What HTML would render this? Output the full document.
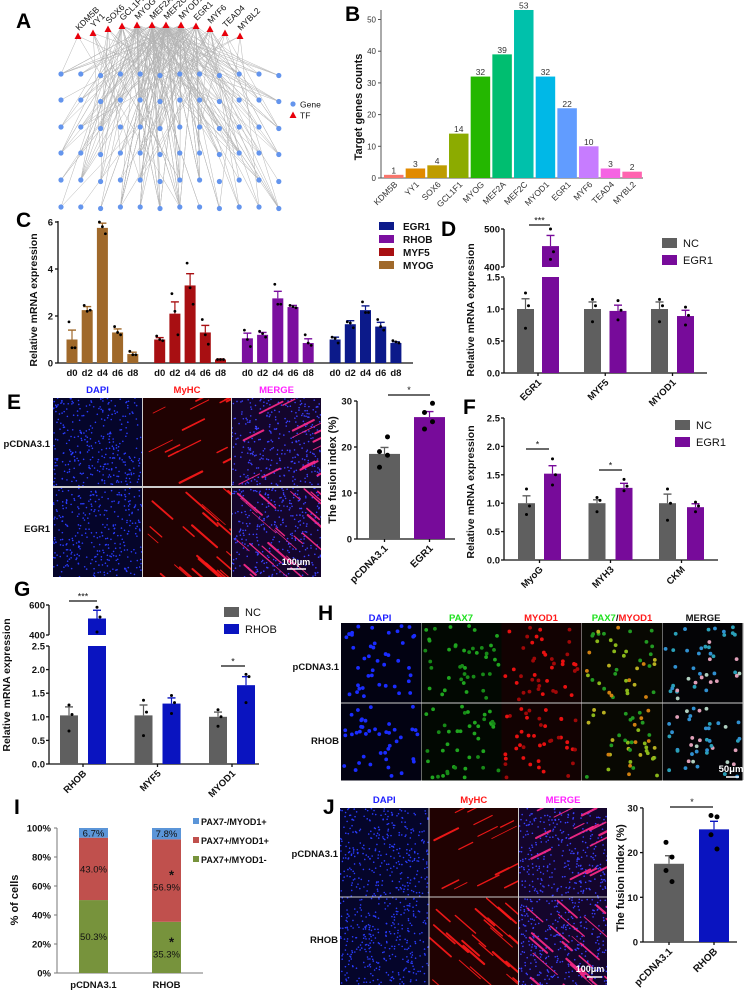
<!DOCTYPE html>
<html><head><meta charset="utf-8">
<style>
html,body{margin:0;padding:0;background:#fff;}
svg{display:block;font-family:"Liberation Sans",Arial,sans-serif;}
text{font-family:"Liberation Sans",Arial,sans-serif;}
</style></head>
<body>
<svg id="fig" width="744" height="991" viewBox="0 0 744 991" xmlns="http://www.w3.org/2000/svg">
<rect x="0" y="0" width="744" height="991" fill="#fff"/>
</svg>
<script>
// ---------- DATA ----------
const bCats=['KDM5B','YY1','SOX6','GCL1F1','MYOG','MEF2A','MEF2C','MYOD1','EGR1','MYF6','TEAD4','MYBL2'];
const bVals=[1,3,4,14,32,39,53,32,22,10,3,2];
const bTicks=[0,10,20,30,40,50];
const bColors=['#f8766d','#e18a00','#be9c00','#8cab00','#24b700','#00be70','#00c1ab','#00b8e7','#619cff','#c77cff','#f564e3','#ff64b0'];

const cSeries=['MYOG','MYF5','RHOB','EGR1'];
const cDays=['d0','d2','d4','d6','d8'];
const cMYOG=[1.0,2.25,5.75,1.3,0.38];
const cMYOGerr=[0.4,0.15,0.2,0.15,0.08];
const cMYF5=[1.0,2.1,3.3,1.3,0.15];
const cMYF5err=[0.08,0.5,0.5,0.3,0.02];
const cRHOB=[1.05,1.2,2.75,2.38,0.85];
const cRHOBerr=[0.22,0.1,0.3,0.07,0.18];
const cEGR1=[1.0,1.65,2.25,1.55,0.85];
const cEGR1err=[0.1,0.15,0.18,0.18,0.05];
const cMYOGdots=[[1.75,0.65,0.65],[2.45,2.2,2.25],[6.0,5.8,5.5],[1.55,1.3,1.2],[0.5,0.35,0.35]];
const cMYF5dots=[[1.15,1.0,0.95],[2.95,2.2,1.2],[4.25,3.2,2.5],[1.85,1.2,0.8],[0.15,0.15,0.15]];
const cRHOBdots=[[1.4,1.0,0.7],[1.35,1.25,1.1],[3.35,2.5,2.5],[2.45,2.4,2.35],[1.2,0.85,0.75]];
const cEGR1dots=[[1.1,1.05,0.85],[1.75,1.7,1.5],[2.6,2.15,2.15],[1.85,1.55,1.4],[0.95,0.9,0.85]];
const cTicks=[0,2,4,6];

const dCats=['EGR1','MYF5','MYOD1'];
const dNC=[1.0,1.0,1.0];
const dNCerr=[0.16,0.11,0.11];
const dEGR=[455,0.97,0.89];
const dEGRerr=[28,0.09,0.09];
const dNCdots=[[1.25,1.05,0.7],[1.15,1.05,0.8],[1.15,1.05,0.8]];
const dEGRdots=[[500,440,420],[1.13,0.98,0.83],[1.03,0.9,0.75]];
const dTicksLow=[0,0.5,1.0,1.5];
const dTicksHigh=[400,500];

const fCats=['MyoG','MYH3','CKM'];
const fNC=[1.0,1.0,1.0];
const fNCerr=[0.13,0.06,0.16];
const fEGR=[1.52,1.27,0.93];
const fEGRerr=[0.14,0.08,0.06];
const fNCdots=[[1.25,0.95,0.8],[1.1,1.05,0.85],[1.25,1.0,0.7]];
const fEGRdots=[[1.78,1.5,1.32],[1.42,1.3,1.22],[1.02,0.95,0.85]];
const fTicks=[0,0.5,1.0,1.5,2.0,2.5];

const eCats=['pCDNA3.1','EGR1'];
const eVals=[18.5,26.5];
const eErr=[1.4,1.2];
const eDots=[[22.2,19,18.2,15.6],[29.5,27.5,25.5,23.9]];
const fusTicks=[0,10,20,30];

const gCats=['RHOB','MYF5','MYOD1'];
const gNC=[1.03,1.03,1.0];
const gNCerr=[0.18,0.22,0.1];
const gRHOB=[510,1.28,1.67];
const gRHOBerr=[55,0.12,0.18];
const gNCdots=[[1.25,1.05,0.7],[1.35,1.1,0.6],[1.15,1.0,0.8]];
const gRHOBdots=[[585,520,420],[1.45,1.3,1.07],[1.9,1.85,1.3]];
const gTicksLow=[0,0.5,1.0,1.5,2.0,2.5];
const gTicksHigh=[400,600];

const iCats=['pCDNA3.1','RHOB'];
const iGreen=[50.3,35.3];
const iRed=[43.0,56.9];
const iBlue=[6.7,7.8];
const iTicks=[0,20,40,60,80,100];

const jCats=['pCDNA3.1','RHOB'];
const jVals=[17.5,25.2];
const jErr=[1.8,1.8];
const jDots=[[22.3,19,16,13.5],[28.3,28,24,20.8]];

// ---------- HELPERS ----------
const svg=document.getElementById('fig');
const NS='http://www.w3.org/2000/svg';
function el(tag,attrs,parent){const e=document.createElementNS(NS,tag);for(const k in attrs)e.setAttribute(k,attrs[k]);(parent||svg).appendChild(e);return e;}
function grp(name){const g=el('g',{});


return g;}
function txt(p,x,y,s,size,name,extra){const e=el('text',Object.assign({x:x,y:y,'font-size':size,'font-weight':'bold',fill:'#111'},extra||{}),p);e.textContent=s;


return e;}
function line(p,x1,y1,x2,y2,name,stroke,w){const e=el('line',{x1:x1,y1:y1,x2:x2,y2:y2,stroke:stroke||'#111','stroke-width':w||1.3},p);


return e;}
function rect(p,x,y,w,h,fill,name,extra){const e=el('rect',Object.assign({x:x,y:y,width:w,height:h,fill:fill},extra||{}),p);


return e;}
function dot(p,x,y,r,fill,name){const e=el('circle',{cx:x,cy:y,r:r,fill:fill},p);


return e;}
function letter(s,x,y){const g=grp('panel-label-'+s);txt(g,x,y,s,21,'panel-letter-'+s,{'font-weight':'bold',fill:'#000'});}
function ytitle(p,x,y,s,size,name){txt(p,x,y,s,size||10.5,name,{transform:'rotate(-90 '+x+' '+y+')','text-anchor':'middle'});}
function errbar(p,cx,yTop,yErr,col,name){line(p,cx,yTop,cx,yErr,name+'-v',col,1.2);line(p,cx-4,yErr,cx+4,yErr,name+'-cap',col,1.4);}
let seed=7;function rnd(){seed=(seed*16807)%2147483647;return (seed-1)/2147483646;}

// ---------- A: NETWORK ----------
(function(){
const g=grp('panel-a-network');letter('A',16,28);
const tfX=[78,93,108,122,137,152,166,181,196,210,225,240];
const tfY=[36,33,29,26,25,25,25,25,26,29,33,36];
const genes=[];const gy=[74,100,127,153,180,207];
for(let r=0;r<6;r++)for(let c=0;c<12;c++)genes.push([61+c*19.8,gy[r]+(c%3==2?1.5:0)]);
const eg=grp('network-edges');g.appendChild(eg);
bVals.forEach((n,i)=>{const cnt=Math.round(n*1.2)+2;for(let k=0;k<cnt;k++){const t=genes[Math.floor(rnd()*genes.length)];line(eg,tfX[i],tfY[i],t[0],t[1],'edge-'+bCats[i],'#b4b4b4',0.5);}});
genes.forEach((p,i)=>dot(g,p[0],p[1],2.6,'#6495ed','gene-node'));
tfX.forEach((x,i)=>{const y=tfY[i];const t=el('polygon',{points:(x-3.5)+','+(y+3)+' '+(x+3.5)+','+(y+3)+' '+x+','+(y-3.5),fill:'#e8000b'},g);


txt(g,x+1,y-5,bCats[i],8.5,'tf-label-'+bCats[i],{'font-weight':'normal',transform:'rotate(-45 '+(x+1)+' '+(y-5)+')'});});
dot(g,293,104,2.6,'#6495ed','legend-gene-marker');txt(g,300,107.5,'Gene',8.5,'legend-gene-label',{'font-weight':'normal'});
const lt=el('polygon',{points:'289.5,118 296.5,118 293,111.5',fill:'#e8000b'},g);


txt(g,300,118.5,'TF',8.5,'legend-tf-label',{'font-weight':'normal'});
})();

// ---------- B ----------
(function(){
const g=grp('panel-b-bar-chart');letter('B',345,21);
const y=v=>178-v*3.17, x=i=>384+i*21.67;
line(g,381,178,643,178,'x-axis','#555',1);line(g,381,10,381,178,'y-axis','#555',1);
bTicks.forEach(t=>{line(g,378,y(t),381,y(t),'y-tick','#555',1);txt(g,376,y(t)+3,String(t),8,'y-tick-label',{'font-weight':'normal','text-anchor':'end',fill:'#333'});});
bVals.forEach((v,i)=>{rect(g,x(i),y(v),19.5,178-y(v),bColors[i],'bar-'+bCats[i]);
txt(g,x(i)+9.75,y(v)-1.5,String(v),8.5,'value-label-'+bCats[i],{'font-weight':'normal','text-anchor':'middle',fill:'#333'});
const lx=x(i)+14,ly=185;txt(g,lx,ly,bCats[i],8.5,'x-label-'+bCats[i],{'font-weight':'normal','text-anchor':'end',fill:'#333',transform:'rotate(-45 '+lx+' '+ly+')'});});
ytitle(g,362,107,'Target genes counts',11,'y-axis-title');
})();

// ---------- C ----------
(function(){
const g=grp('panel-c-grouped-bars');letter('C',16,227);
const y=v=>363-v*23.5;
const cols=['#a0692a','#a80f12','#7b0f9f','#0c1a8a'];
const vals=[cMYOG,cMYF5,cRHOB,cEGR1],errs=[cMYOGerr,cMYF5err,cRHOBerr,cEGR1err],dots=[cMYOGdots,cMYF5dots,cRHOBdots,cEGR1dots];
line(g,58,363,413,363,'x-axis');line(g,58,221,58,363,'y-axis');
cTicks.forEach(t=>{line(g,55,y(t),58,y(t),'y-tick');txt(g,53,y(t)+3.5,String(t),9.5,'y-tick-label',{'text-anchor':'end'});});
vals.forEach((s,si)=>s.forEach((v,di)=>{const cx=72+si*87.7+di*15.2;const nm='bar-'+cSeries[si]+'-'+cDays[di];
rect(g,cx-5.5,y(v),11,363-y(v),cols[si],nm);errbar(g,cx,y(v),y(v+errs[si][di]),cols[si],nm+'-error');
dots[si][di].forEach((d,k)=>dot(g,cx+(k-1)*3,y(d),1.4,'#000',nm+'-point'));
txt(g,cx,376,cDays[di],9.5,'x-label-'+cDays[di],{'text-anchor':'middle'});}));
ytitle(g,37,300,'Relative mRNA expression',10.5,'y-axis-title');
const lg=['EGR1','RHOB','MYF5','MYOG'],lc=['#0c1a8a','#7b0f9f','#a80f12','#a0692a'];
lg.forEach((s,i)=>{rect(g,379,222+i*13,15,8,lc[i],'legend-swatch-'+s);txt(g,403,230+i*13,s,10,'legend-label-'+s);});
})();

// ---------- break-axis pair chart helper ----------
function pairChart(cfg){
const g=grp(cfg.name);
const yf=cfg.y;
cfg.axisSegs.forEach(s=>line(g,cfg.ax,s[0],cfg.ax,s[1],'y-axis'));
line(g,cfg.ax,cfg.base,cfg.axEnd,cfg.base,'x-axis');
cfg.ticks.forEach(t=>{line(g,cfg.ax-3,yf(t),cfg.ax,yf(t),'y-tick');txt(g,cfg.ax-4,yf(t)+3.5,cfg.fmt(t),9.5,'y-tick-label',{'text-anchor':'end'});});
cfg.cats.forEach((c,i)=>{
const sets=[[cfg.a,cfg.aErr,cfg.aDots,cfg.aX(i),'#5f5f5f','nc'],[cfg.b,cfg.bErr,cfg.bDots,cfg.bX(i),cfg.col,'treat']];
sets.forEach(s=>{const v=s[0][i],e=s[1][i],x=s[3],w=cfg.w,nm='bar-'+c+'-'+s[5];
if(cfg.lowMax&&v>cfg.lowMax){rect(g,x,yf(cfg.lowMax),w,cfg.base-yf(cfg.lowMax),s[4],nm+'-lower');rect(g,x,yf(v),w,yf(cfg.highMin)-yf(v),s[4],nm+'-upper');}
else rect(g,x,yf(v),w,cfg.base-yf(v),s[4],nm);
errbar(g,x+w/2,yf(v),yf(v+e),s[4],nm+'-error');
s[2][i].forEach((d,k)=>dot(g,x+w/2+(k==1?3:0),yf(d),1.5,'#000',nm+'-point'));});
const cx=(cfg.aX(i)+cfg.bX(i)+cfg.w)/2;line(g,cx,cfg.base,cx,cfg.base+3,'x-tick');
const lx=cx+4,ly=cfg.base+10;txt(g,lx,ly,c,9.5,'x-label-'+c,{'text-anchor':'end',transform:'rotate(-45 '+lx+' '+ly+')'});});
rect(g,cfg.lgX,cfg.lgY,15,10,'#5f5f5f','legend-swatch-nc');txt(g,cfg.lgX+21,cfg.lgY+9,'NC',11,'legend-label-nc',{'font-weight':'normal'});
rect(g,cfg.lgX,cfg.lgY+17,15,10,cfg.col,'legend-swatch-treat');txt(g,cfg.lgX+21,cfg.lgY+26,cfg.lgB,11,'legend-label-treat',{'font-weight':'normal'});
cfg.sig.forEach(s=>{line(g,s[0],s[2],s[1],s[2],'significance-line');txt(g,(s[0]+s[1])/2,s[2]-1.5,s[3],9,'significance-stars',{'text-anchor':'middle','font-weight':'normal'});});
ytitle(g,cfg.tx,cfg.ty,'Relative mRNA expression',10.5,'y-axis-title');
return g;}

// ---------- D ----------
letter('D',441,236);
pairChart({name:'panel-d-egr1-expression',y:v=>v<=1.5?373-v*64:267-(v-400)*0.38,base:373,ax:504,axEnd:707,
axisSegs:[[277.7,373],[229,267]],ticks:dTicksLow.concat(dTicksHigh),fmt:t=>t>=100?String(t):t.toFixed(1),
cats:dCats,a:dNC,aErr:dNCerr,aDots:dNCdots,b:dEGR,bErr:dEGRerr,bDots:dEGRdots,aX:i=>517+i*67,bX:i=>542+i*67.5,w:17,col:'#770b9a',
lowMax:1.5,highMin:400,lgX:662,lgY:238,lgB:'EGR1',sig:[[529,550,225,'***']],tx:474,ty:310});

// ---------- F ----------
letter('F',463,414);
pairChart({name:'panel-f-egr1-differentiation',y:v=>560-v*56.8,base:560,ax:504,axEnd:718,axisSegs:[[418,560]],ticks:fTicks,fmt:t=>t.toFixed(1),
cats:fCats,a:fNC,aErr:fNCerr,aDots:fNCdots,b:fEGR,bErr:fEGRerr,bDots:fEGRdots,aX:i=>518+i*70.5,bX:i=>544+i*71.5,w:17,col:'#770b9a',
lgX:675,lgY:420,lgB:'EGR1',sig:[[526,549,449,'*'],[599,622,470,'*']],tx:474,ty:492});

// ---------- G ----------
letter('G',14,596);
pairChart({name:'panel-g-rhob-expression',y:v=>v<=2.5?764-v*47.2:635-(v-400)*0.15,base:764,ax:49,axEnd:259,
axisSegs:[[646,764],[605,635]],ticks:gTicksLow.concat(gTicksHigh),fmt:t=>t>=100?String(t):t.toFixed(1),
cats:gCats,a:gNC,aErr:gNCerr,aDots:gNCdots,b:gRHOB,bErr:gRHOBerr,bDots:gRHOBdots,aX:i=>60+i*74.5,bX:i=>88+i*74.5,w:18,col:'#0a14c0',
lowMax:2.5,highMin:400,lgX:224,lgY:607,lgB:'RHOB',sig:[[69,97,601,'***'],[221,245,666,'*']],tx:10,ty:685});

// ---------- microscopy helper ----------
function micro(p,x,y,w,h,type,name,dense){
const g=el('g',{},p);


const bgs={dapi:'#05052a',myhc:'#200202',merge:'#14052c',h_dapi:'#020212',h_pax:'#020802',h_myod:'#120202',h_pm:'#080802',h_merge:'#040406'};
rect(g,x,y,w,h,bgs[type],name+'-bg');
const cp='clip'+Math.floor(rnd()*1e9);const cpe=el('clipPath',{id:cp},g);el('rect',{x:x,y:y,width:w,height:h},cpe);
const inner=el('g',{'clip-path':'url(#'+cp+')'},g);
if(type=='dapi'||type=='merge'){for(let k=0;k<320;k++)dot(inner,x+rnd()*w,y+rnd()*h,0.8,type=='dapi'?'#2a3cff':'#3a40ff','nucleus');}
if(type=='myhc'||type=='merge'){const n=dense?24:14;for(let k=0;k<n;k++){const sx=x+rnd()*w,sy=y+rnd()*h,len=10+rnd()*22;
const dy=dense?len*0.7:-len*0.4;
const e=el('line',{x1:sx,y1:sy,x2:sx+len*0.8,y2:sy+dy,stroke:type=='myhc'?'#ff1a1a':'#ff2a8a','stroke-width':0.7+rnd()*1.6,'stroke-linecap':'round',opacity:0.9},inner);

}}
if(type.startsWith('h_')){const cm={h_dapi:['#1a2cff'],h_pax:['#178a17','#1fa51f'],h_myod:['#e81010','#a00808'],h_pm:['#8ab81a','#d08010','#b8b020','#229a22'],h_merge:['#2aa0b8','#e0a0b8','#3090d0','#b0d0c0']};
const cs=cm[type];for(let k=0;k<42;k++)dot(inner,x+3+rnd()*(w-6),y+3+rnd()*(h-6),1.9,cs[Math.floor(rnd()*cs.length)],'cell');}
return g;}

// ---------- E ----------
(function(){
const g=grp('panel-e-fusion');letter('E',7,409);
const cols=[[53,89],[143,88],[232,89]],rows=[[398,88],[488,89]],types=['dapi','myhc','merge'],labs=['DAPI','MyHC','MERGE'],lc=['#2020ff','#ff1a1a','#ff20ff'];
rect(g,53,398,268,179,'#ccc','image-grid-border');
rows.forEach((r,ri)=>cols.forEach((c,ci)=>micro(g,c[0],r[0],c[1],r[1],types[ci],'image-'+['pcdna','egr1'][ri]+'-'+labs[ci].toLowerCase(),ri==1)));
labs.forEach((l,i)=>txt(g,cols[i][0]+cols[i][1]/2,393,l,9.5,'column-label-'+l,{'text-anchor':'middle',fill:lc[i]}));
txt(g,50,447,'pCDNA3.1',9.5,'row-label-pcdna3.1',{'text-anchor':'end'});txt(g,50,532,'EGR1',9.5,'row-label-egr1',{'text-anchor':'end'});
line(g,287,569,306,569,'scale-bar','#fff',1.5);txt(g,296,565,'100μm',9,'scale-label',{'text-anchor':'middle',fill:'#fff'});
const y=v=>539-v*4.6;
line(g,357,539,455,539,'x-axis');line(g,357,y(30),357,539,'y-axis');
fusTicks.forEach(t=>{line(g,354,y(t),357,y(t),'y-tick');txt(g,352,y(t)+3.5,String(t),9.5,'y-tick-label',{'text-anchor':'end'});});
const bx=[369,414],bc=['#5f5f5f','#770b9a'];
eVals.forEach((v,i)=>{rect(g,bx[i],y(v),31,539-y(v),bc[i],'bar-'+eCats[i]);errbar(g,bx[i]+15.5,y(v),y(v+eErr[i]),bc[i],'bar-'+eCats[i]+'-error');
eDots[i].forEach((d,k)=>dot(g,bx[i]+15.5+(k%2?-5:3),y(d),2.5,'#000','bar-'+eCats[i]+'-point'));
const cx=bx[i]+15.5;line(g,cx,539,cx,542,'x-tick');txt(g,cx+4,549,eCats[i],10,'x-label-'+eCats[i],{'text-anchor':'end',transform:'rotate(-45 '+(cx+4)+' 549)'});});
line(g,388,395,430,395,'significance-line');txt(g,409,393,'*',9,'significance-star',{'text-anchor':'middle','font-weight':'normal'});
ytitle(g,336,470,'The fusion index (%)',11,'y-axis-title');
})();

// ---------- H ----------
(function(){
const g=grp('panel-h-images');letter('H',318,620);
rect(g,341,623,403,157,'#ccc','image-grid-border');
const xs=[341,421.5,501.5,582,662.5],types=['h_dapi','h_pax','h_myod','h_pm','h_merge'],nm=['dapi','pax7','myod1','pax7-myod1','merge'];
[[623,79.5],[703.5,77]].forEach((r,ri)=>xs.forEach((x,ci)=>micro(g,x,r[0],80,r[1],types[ci],'image-'+['pcdna','rhob'][ri]+'-'+nm[ci])));
txt(g,380,621,'DAPI',9.5,'column-label-dapi',{'text-anchor':'middle',fill:'#2020ff'});
txt(g,461,621,'PAX7',9.5,'column-label-pax7',{'text-anchor':'middle',fill:'#20e020'});
txt(g,541,621,'MYOD1',9.5,'column-label-myod1',{'text-anchor':'middle',fill:'#ff1a1a'});
const t=txt(g,622,621,'',9.5,'column-label-pax7-myod1',{'text-anchor':'middle'});
const s1=el('tspan',{fill:'#20e020'},t);s1.textContent='PAX7';const s2=el('tspan',{fill:'#111'},t);s2.textContent='/';const s3=el('tspan',{fill:'#ff1a1a'},t);s3.textContent='MYOD1';
txt(g,703,621,'MERGE',9.5,'column-label-merge',{'text-anchor':'middle'});
txt(g,339,670,'pCDNA3.1',9.5,'row-label-pcdna3.1',{'text-anchor':'end'});txt(g,339,744,'RHOB',9.5,'row-label-rhob',{'text-anchor':'end'});
line(g,726,777,739,777,'scale-bar','#fff',1.5);txt(g,731,772,'50μm',9.5,'scale-label',{'text-anchor':'middle',fill:'#fff'});
})();

// ---------- I ----------
(function(){
const g=grp('panel-i-stacked');letter('I',14,814);
const y=v=>973-v*1.45;
line(g,57,973,203,973,'x-axis','#777',1);line(g,57,y(100),57,973,'y-axis','#777',1);
iTicks.forEach(t=>{line(g,54,y(t),57,y(t),'y-tick','#777',1);txt(g,51,y(t)+3.5,t+'%',9.5,'y-tick-label',{'text-anchor':'end'});});
const bx=[79,152];
iCats.forEach((c,i)=>{const w=29;let b=0;
[[iGreen,'#77933c','green'],[iRed,'#c0504d','red'],[iBlue,'#5b95d8','blue']].forEach(s=>{const v=s[0][i];rect(g,bx[i],y(b+v),w,y(b)-y(b+v),s[1],'segment-'+c+'-'+s[2]);
txt(g,bx[i]+w/2,y(b+v/2)+(s[2]=='blue'?3.5:(i==1&&s[2]!='blue'?10:3.5)),v.toFixed(1)+'%',9.5,'segment-label-'+c+'-'+s[2],{'text-anchor':'middle','font-weight':'normal'});
if(i==1&&s[2]!='blue')txt(g,bx[i]+w/2+5,y(b+v/2)-1,'*',13,'significance-star',{'text-anchor':'middle'});b+=v;});
txt(g,bx[i]+w/2,988,c,9.5,'x-label-'+c,{'text-anchor':'middle'});});
ytitle(g,18,900,'% of cells',11,'y-axis-title');
const lg=[['PAX7-/MYOD1+','#5b95d8'],['PAX7+/MYOD1+','#c0504d'],['PAX7+/MYOD1-','#77933c']];
lg.forEach((l,i)=>{rect(g,193,818+i*19,6,6,l[1],'legend-swatch-'+i);txt(g,201,825+i*19,l[0],9,'legend-label-'+i);});
})();

// ---------- J ----------
(function(){
const g=grp('panel-j-fusion');letter('J',323,814);
rect(g,340,808,267,177,'#ccc','image-grid-border');
const cols=[[340,88.5],[429.5,88.5],[519,88]],types=['dapi','myhc','merge'],labs=['DAPI','MyHC','MERGE'],lc=['#2020ff','#ff1a1a','#ff20ff'];
[[808,88.5],[897.5,87.5]].forEach((r,ri)=>cols.forEach((c,ci)=>micro(g,c[0],r[0],c[1],r[1],types[ci],'image-'+['pcdna','rhob'][ri]+'-'+labs[ci].toLowerCase(),ri==1)));
labs.forEach((l,i)=>txt(g,cols[i][0]+cols[i][1]/2,803,l,9.5,'column-label-'+l,{'text-anchor':'middle',fill:lc[i]}));
txt(g,338,857,'pCDNA3.1',9.5,'row-label-pcdna3.1',{'text-anchor':'end'});txt(g,338,943,'RHOB',9.5,'row-label-rhob',{'text-anchor':'end'});
line(g,587,977,602,977,'scale-bar','#fff',1.5);txt(g,590,972,'100μm',9,'scale-label',{'text-anchor':'middle',fill:'#fff'});
const y=v=>942-v*4.47;
line(g,643,942,737,942,'x-axis');line(g,643,y(30),643,942,'y-axis');
fusTicks.forEach(t=>{line(g,640,y(t),643,y(t),'y-tick');txt(g,638,y(t)+3.5,String(t),9.5,'y-tick-label',{'text-anchor':'end'});});
const bx=[654,699],bc=['#5f5f5f','#0a14c0'];
jVals.forEach((v,i)=>{rect(g,bx[i],y(v),30,942-y(v),bc[i],'bar-'+jCats[i]);errbar(g,bx[i]+15,y(v),y(v+jErr[i]),bc[i],'bar-'+jCats[i]+'-error');
jDots[i].forEach((d,k)=>dot(g,bx[i]+15+(k%2?3:-3),y(d),2.5,'#000','bar-'+jCats[i]+'-point'));
const cx=bx[i]+15;line(g,cx,942,cx,945,'x-tick');txt(g,cx+4,952,jCats[i],10,'x-label-'+jCats[i],{'text-anchor':'end',transform:'rotate(-45 '+(cx+4)+' 952)'});});
line(g,670,807,713,807,'significance-line');txt(g,692,805,'*',9,'significance-star',{'text-anchor':'middle','font-weight':'normal'});
ytitle(g,624,878,'The fusion index (%)',11,'y-axis-title');
})();
</script>
</body></html>
